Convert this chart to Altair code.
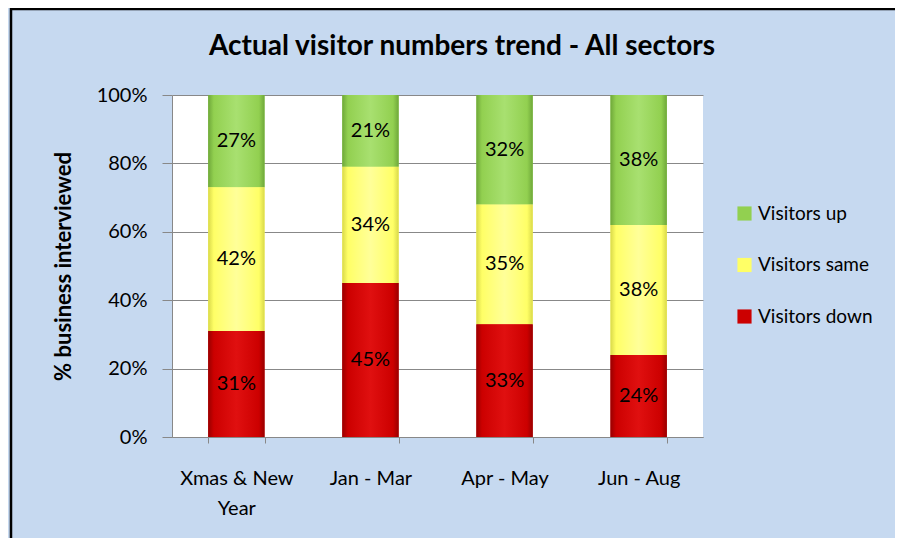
import altair as alt
import pandas as pd

periods = ["Xmas & New Year", "Jan - Mar", "Apr - May", "Jun - Aug"]
series = ["Visitors up", "Visitors same", "Visitors down"]
down = [31, 45, 33, 24]
same = [42, 34, 35, 38]
up = [27, 21, 32, 38]
colors = ["#92d050", "#ffff66", "#cc0000"]
dark = ["#6fa83a", "#d9d94a", "#990000"]
light = ["#a8e070", "#ffff99", "#e01010"]

rows = []
for i, p in enumerate(periods):
    base = 0.0
    for s, vals in [("Visitors down", down), ("Visitors same", same), ("Visitors up", up)]:
        v = vals[i]
        rows.append({"period": p, "series": s, "value": v,
                     "y0": base / 100, "y1": (base + v) / 100,
                     "mid": (base + v / 2) / 100, "label": f"{v}%"})
        base += v
df = pd.DataFrame(rows)

W, H = 531, 342
FONT = "Lato"

xscale = alt.Scale(paddingInner=0.58, paddingOuter=0.27)
x = alt.X("period:N", sort=periods, title=None, scale=xscale,
          axis=alt.Axis(labelAngle=0, labelFontSize=20, labelFont=FONT, labelColor="#000",
                        labelPadding=25, labelLineHeight=30, tickBand="extent", tickSize=6,
                        tickColor="#888", domainColor="#888",
                        labelExpr="datum.label == 'Xmas & New Year' ? ['Xmas & New', 'Year'] : datum.label"))

y = alt.Y("y0:Q", scale=alt.Scale(domain=[0, 1]),
          title="% business interviewed",
          axis=alt.Axis(format=".0%", values=[0, 0.2, 0.4, 0.6, 0.8, 1.0], labelFontSize=20,
                        labelFont=FONT, labelColor="#000", tickSize=10, labelPadding=15,
                        tickColor="#888", domainColor="#888", gridColor="#888",
                        titleFontSize=22, titleFont=FONT, titleFontWeight="bold",
                        titlePadding=21, titleColor="#000"))

bars = alt.Chart(df).mark_bar(stroke=None).encode(
    x=x, y=y, y2="y1:Q",
    color=alt.Color("series:N",
                    scale=alt.Scale(domain=series, range=colors),
                    legend=alt.Legend(title=None, orient="none", legendX=563, legendY=109,
                                      symbolType="square", symbolSize=200,
                                      symbolStrokeWidth=0, labelFontSize=19, labelFont=FONT,
                                      labelColor="#000", rowPadding=31.5, labelOffset=4)),
)

shade_layers = []
for s, c, d, l in zip(series, colors, dark, light):
    grad = alt.Gradient(gradient="linear", x1=0, x2=1, y1=0, y2=0,
                        stops=[alt.GradientStop(color=d, offset=0),
                               alt.GradientStop(color=c, offset=0.1),
                               alt.GradientStop(color=l, offset=0.5),
                               alt.GradientStop(color=c, offset=0.9),
                               alt.GradientStop(color=d, offset=1)])
    shade_layers.append(
        alt.Chart(df).transform_filter(alt.datum.series == s)
        .mark_bar(color=grad, stroke=None)
        .encode(x=alt.X("period:N", sort=periods, scale=xscale), y=alt.Y("y0:Q"), y2="y1:Q")
    )

labels = alt.Chart(df).mark_text(fontSize=20, font=FONT, color="#000").encode(
    x=alt.X("period:N", sort=periods, scale=xscale),
    y=alt.Y("mid:Q"),
    text="label:N",
)

title_text = ["Actual visitor numbers trend - All sectors"]
title = alt.Chart(pd.DataFrame({"t": title_text})).mark_text(
    fontSize=28, font=FONT, fontWeight="bold", color="#000", align="center", baseline="middle"
).encode(x=alt.value(290), y=alt.value(-48), text="t:N")

border = alt.Chart(alt.Data(values=[{}])).mark_rect(
    fill=None, stroke="#000", strokeWidth=2.5
).encode(x=alt.value(-161), x2=alt.value(W + 260), y=alt.value(-86), y2=alt.value(H + 260))

chart = alt.layer(bars, *shade_layers, labels, title, border).properties(
    width=W, height=H,
    autosize=alt.AutoSizeParams(type="none"),
    padding={"left": 164, "top": 87, "right": 192, "bottom": 101},
    background="#c6d9f0",
).configure_view(stroke=None, fill="#ffffff")

chart.save("out.html", embed_options={"renderer": "svg", "actions": False})
